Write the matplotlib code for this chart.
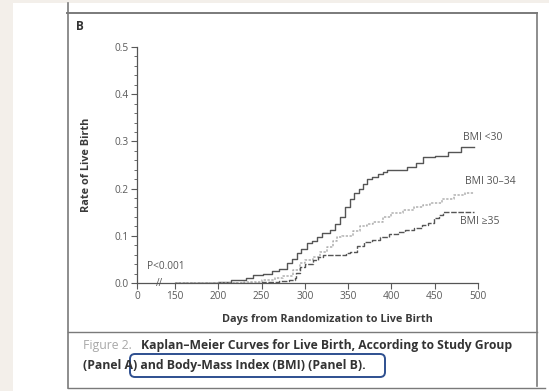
import numpy as np
import matplotlib
matplotlib.use("Agg")
import matplotlib.pyplot as plt
from matplotlib.patches import Rectangle, FancyBboxPatch
from matplotlib.lines import Line2D

plt.rcParams['font.family'] = ['Open Sans', 'DejaVu Sans']

# donnees (jours, taux de naissance vivante)
bmi30_days = [150, 200, 215, 232, 240, 252, 262, 270, 279, 285, 291, 296, 302, 308, 314,
              320, 329, 335, 341, 346, 352, 357, 362, 367, 372, 378, 384, 390, 395, 405,
              418, 428, 437, 450, 465, 480, 495]
bmi30_rate = [0, 0.003, 0.006, 0.010, 0.017, 0.020, 0.025, 0.030, 0.043, 0.050, 0.064,
              0.072, 0.085, 0.090, 0.098, 0.105, 0.113, 0.125, 0.140, 0.160, 0.177, 0.190,
              0.200, 0.210, 0.220, 0.225, 0.230, 0.236, 0.240, 0.240, 0.245, 0.255, 0.266,
              0.270, 0.277, 0.289, 0.289]

bmi3034_days = [150, 230, 250, 265, 275, 286, 294, 300, 309, 317, 325, 332, 337, 343, 349,
                356, 364, 372, 379, 390, 399, 413, 426, 436, 445, 458, 472, 485, 495]
bmi3034_rate = [0, 0.003, 0.006, 0.010, 0.015, 0.028, 0.042, 0.048, 0.055, 0.066, 0.077,
                0.090, 0.098, 0.099, 0.100, 0.110, 0.120, 0.125, 0.130, 0.140, 0.149, 0.155,
                0.162, 0.165, 0.170, 0.178, 0.187, 0.190, 0.190]

bmi35_days = [150, 250, 270, 282, 288, 290, 294, 300, 309, 315, 321, 344, 348, 352, 360,
              368, 377, 387, 397, 407, 416, 426, 435, 442, 449, 455, 460, 470, 480, 495]
bmi35_rate = [0, 0.002, 0.004, 0.006, 0.010, 0.021, 0.034, 0.040, 0.049, 0.055, 0.060,
              0.060, 0.063, 0.066, 0.078, 0.087, 0.092, 0.098, 0.104, 0.109, 0.113, 0.117,
              0.122, 0.128, 0.138, 0.145, 0.150, 0.151, 0.151, 0.151]

xtick_pos = [106, 150, 200, 250, 300, 350, 400, 450, 500]
xtick_labels = ["0", "150", "200", "250", "300", "350", "400", "450", "500"]
yticks = [0.0, 0.1, 0.2, 0.3, 0.4, 0.5]

W, H = 549, 391
fig = plt.figure(figsize=(W / 100, H / 100), dpi=100)
fig.patch.set_facecolor("#f3efea")
inch = fig.dpi_scale_trans

def P(x, y):
    # pixels (origine en haut a gauche) -> pouces
    return x / 100, (H - y) / 100

# fond blanc de la page
fig.add_artist(Rectangle(P(13, H), (W - 13) / 100, (H - 3) / 100, transform=inch,
                         facecolor="white", edgecolor="none", zorder=0))

# cadre
frame = [((67, 13), (537, 13), 1.4), ((68, 3), (68, 388), 1.2), ((537, 13), (537, 386), 1.2),
         ((68, 332), (537, 332), 1.0), ((68, 388), (545, 388), 1.0)]
for (a, b, lw) in frame:
    xa, ya = P(*a)
    xb, yb = P(*b)
    fig.add_artist(Line2D([xa, xb], [ya, yb], transform=inch, color="#7a7a7a", lw=lw))

ax = fig.add_axes([137 / W, 1 - 283 / H, 341 / W, 236 / H])
ax.set_facecolor("none")

ax.plot(bmi30_days, bmi30_rate, drawstyle="steps-post", color="#555555", lw=1.0)
ax.plot(bmi3034_days, bmi3034_rate, drawstyle="steps-post", color="#b0b0b0", lw=1.1,
        linestyle=(0, (1.5, 1)))
ax.plot(bmi35_days, bmi35_rate, drawstyle="steps-post", color="#555555", lw=1.0,
        linestyle=(0, (4, 1.2)))

ax.set_xlim(106, 500)
ax.set_ylim(0, 0.5)
ax.set_xticks(xtick_pos)
ax.set_xticklabels(xtick_labels)
ax.set_yticks(yticks)
ax.set_yticklabels(["%.1f" % v for v in yticks])
ax.set_yticks(np.arange(0, 0.5, 0.02), minor=True)
ax.tick_params(axis="both", labelsize=7.3, colors="#5a5a5a", length=4, width=0.8, pad=2)
ax.tick_params(axis="y", which="minor", length=2, width=0.6, colors="#555555")
for s in ["top", "right"]:
    ax.spines[s].set_visible(False)
for s in ["left", "bottom"]:
    ax.spines[s].set_color("#555555")
    ax.spines[s].set_linewidth(0.9)

# cassure de l'axe
ax.text(132, 0, "//", ha="center", va="center", fontsize=7, color="#555555", clip_on=False)

ax.set_xlabel("Days from Randomization to Live Birth", fontsize=7.8, fontweight="bold",
              color="#3a3a3a")
ax.xaxis.set_label_coords((327 - 137) / 341, -(314 - 283) / 236)
ax.set_ylabel("Rate of Live Birth", fontsize=7.8, fontweight="bold", color="#3a3a3a")
ax.yaxis.set_label_coords(-45 / 341, 0.5)

ax.text(117, 0.036, "P<0.001", fontsize=7.3, color="#555555", va="center")
ax.text(483, 0.309, "BMI <30", fontsize=7.5, color="#555555", va="center", clip_on=False)
ax.text(485, 0.215, "BMI 30\u201334", fontsize=7.5, color="#555555", va="center", clip_on=False)
ax.text(479, 0.130, "BMI \u226535", fontsize=7.5, color="#555555", va="center", clip_on=False)

fig.text(*P(76, 27), "B", transform=inch, fontsize=8.5, fontweight="bold", color="#333333",
         va="center")

# legende de la figure
fig.text(*P(83, 345), "Figure 2.", transform=inch, fontsize=8.8, color="#a8a8a8", va="center")
fig.text(*P(141, 345), "Kaplan\u2013Meier Curves for Live Birth, According to Study Group",
         transform=inch, fontsize=8.7, fontweight="bold", color="#333333", va="center")
fig.text(*P(83, 366), "(Panel A) and Body-Mass Index (BMI) (Panel B).", transform=inch,
         fontsize=8.8, fontweight="bold", color="#333333", va="center")
fig.add_artist(FancyBboxPatch(P(130, 377), 2.55, 0.23, transform=inch,
                              boxstyle="round,pad=0,rounding_size=0.05",
                              facecolor="none", edgecolor="#2e4f8f", lw=1.4))

fig.savefig("out.png", dpi=100)
